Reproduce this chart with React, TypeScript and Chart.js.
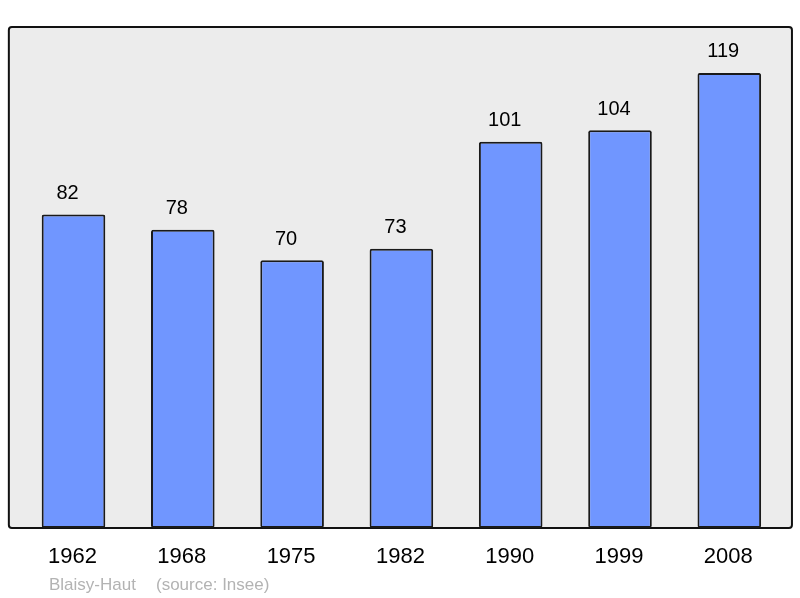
import { useEffect, useRef } from "react"
import { Chart, registerables } from "chart.js"

Chart.register(...registerables)

const years = ["1962", "1968", "1975", "1982", "1990", "1999", "2008"]
const population = [82, 78, 70, 73, 101, 104, 119]
const commune = "Blaisy-Haut"
const sourceNote = "(source: Insee)"

const FONT = "'Liberation Sans', Arial, sans-serif"

// grey rounded frame behind the plot, slightly wider than the chart area
const framePlugin = {
  id: "frame",
  beforeDraw(chart: Chart) {
    const { ctx, chartArea } = chart
    const x = chartArea.left - 10
    const y = chartArea.top
    const w = chartArea.right + 8 - x
    const h = chartArea.bottom - y
    ctx.save()
    ctx.beginPath()
    ctx.roundRect(x, y, w, h, 3)
    ctx.fillStyle = "#ececec"
    ctx.fill()
    ctx.lineWidth = 2
    ctx.strokeStyle = "#111"
    ctx.stroke()
    ctx.restore()
  },
}

// value labels above bars, year labels below, footer text
const labelsPlugin = {
  id: "labels",
  afterDatasetsDraw(chart: Chart) {
    const { ctx, chartArea } = chart
    const meta = chart.getDatasetMeta(0)
    const xScale = chart.scales.x
    ctx.save()
    ctx.textAlign = "center"
    ctx.textBaseline = "middle"
    ctx.fillStyle = "#000"
    ctx.font = `20px ${FONT}`
    meta.data.forEach((bar, i) => {
      ctx.fillText(String(population[i]), bar.x - 6, bar.y - 21)
    })
    ctx.font = `22px ${FONT}`
    years.forEach((yr, i) => {
      ctx.fillText(yr, xScale.getPixelForValue(i) - 1, chartArea.bottom + 29)
    })
    ctx.textAlign = "left"
    ctx.fillStyle = "#b3b3b3"
    ctx.font = `17px ${FONT}`
    ctx.fillText(commune, 49, chartArea.bottom + 57)
    ctx.fillText(sourceNote, 156, chartArea.bottom + 57)
    ctx.restore()
  },
}

export default function App() {
  const chartRef = useRef<HTMLCanvasElement>(null)
  const chartInstance = useRef<Chart | null>(null)

  useEffect(() => {
    if (!chartRef.current) return

    if (chartInstance.current) {
      chartInstance.current.destroy()
    }

    const ctx = chartRef.current.getContext("2d")
    if (!ctx) return

    chartInstance.current = new Chart(ctx, {
      type: "bar",
      data: {
        labels: years,
        datasets: [
          {
            data: population,
            backgroundColor: "#7096ff",
            borderColor: "#1a1a1a",
            borderWidth: 2,
            borderRadius: 2,
            borderSkipped: false,
            barPercentage: 0.582,
            categoryPercentage: 1,
          },
        ],
      },
      options: {
        animation: false,
        responsive: true,
        maintainAspectRatio: false,
        layout: {
          padding: { left: 18.85, right: 16.05, top: 27, bottom: 70 },
        },
        plugins: {
          legend: { display: false },
          tooltip: { enabled: false },
        },
        scales: {
          x: { display: false },
          y: { display: false, min: 0, max: 131 },
        },
      },
      plugins: [framePlugin, labelsPlugin],
    })

    return () => {
      if (chartInstance.current) {
        chartInstance.current.destroy()
        chartInstance.current = null
      }
    }
  }, [])

  return (
    <div style={{ position: "fixed", left: 0, top: 0, width: 800, height: 598, background: "#fff" }}>
      <canvas ref={chartRef}></canvas>
    </div>
  )
}
